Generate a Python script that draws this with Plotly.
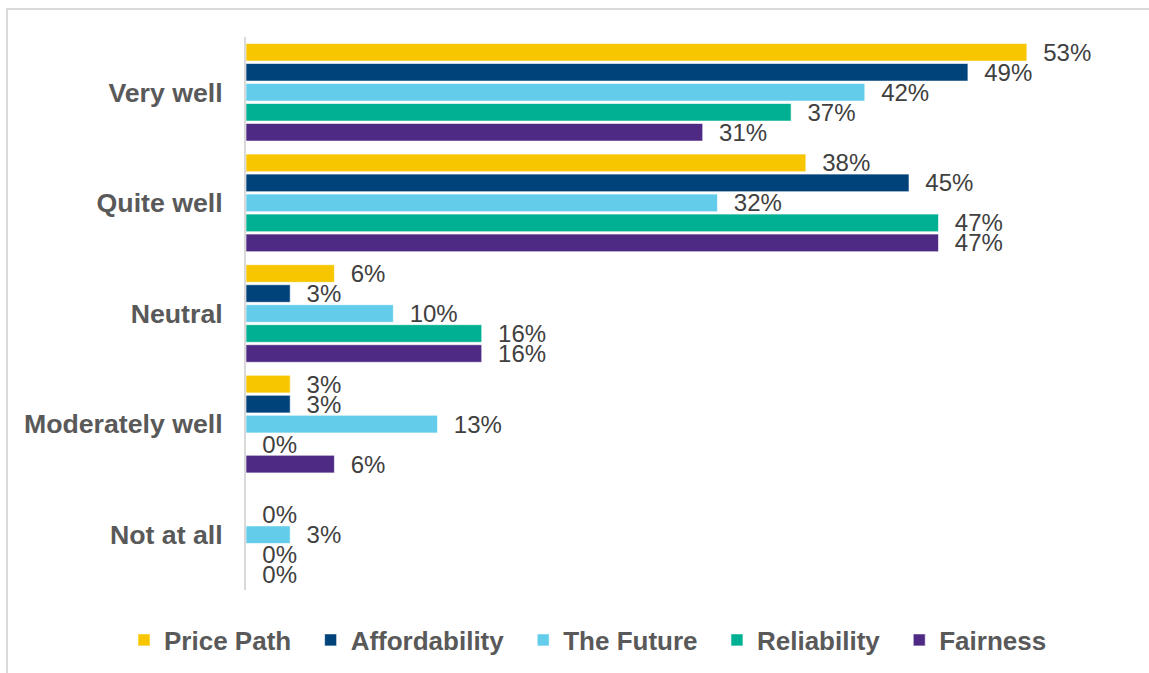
import plotly.graph_objects as go

# Survey responses, share of respondents (%) per rating and topic
categories = ["Very well", "Quite well", "Neutral", "Moderately well", "Not at all"]
price_path = [53, 38, 6, 3, None]
affordability = [49, 45, 3, 3, 0]
the_future = [42, 32, 10, 13, 3]
reliability = [37, 47, 16, 0, 0]
fairness = [31, 47, 16, 6, 0]

series = [
    ("Price Path", price_path, "#F7C600"),
    ("Affordability", affordability, "#00427A"),
    ("The Future", the_future, "#63CCEA"),
    ("Reliability", reliability, "#00B092"),
    ("Fairness", fairness, "#4E2A84"),
]

W, H = 1149, 673
ML, MR, MT, MB = 246, 19, 37, 83
PW, PH = W - ML - MR, H - MT - MB

FONT = "Arial, Liberation Sans, sans-serif"
NB = "\u00a0"

fig = go.Figure()
for i, (name, vals, color) in enumerate(series):
    fig.add_trace(go.Bar(
        y=categories,
        x=vals,
        name=name if i == len(series) - 1 else name + NB * 2,
        orientation="h",
        marker=dict(color=color, line=dict(color="white", width=0.6)),
        text=[None if v is None else f"{v}%" for v in vals],
        texttemplate=NB * 2 + "%{text}",
        textposition="outside",
        constraintext="none",
        textfont=dict(family=FONT, size=24, color="#404040"),
        cliponaxis=False,
        hoverinfo="x+y+name",
    ))

def px_x(p):
    return (p - ML) / PW

def px_y(p):
    return (MT + PH - p) / PH

fig.update_layout(
    width=W,
    height=H,
    margin=dict(l=ML, r=MR, t=MT, b=MB, autoexpand=False),
    paper_bgcolor="white",
    plot_bgcolor="white",
    barmode="group",
    bargap=0.096,
    bargroupgap=0.12,
    font=dict(family=FONT, color="#595959"),
    xaxis=dict(range=[0, 60], showgrid=False, zeroline=False, showticklabels=False,
               showline=False, fixedrange=True),
    yaxis=dict(autorange="reversed", showgrid=False, zeroline=False,
               showline=True, linecolor="#d9d9d9", linewidth=2,
               ticks="outside", ticklen=16, tickcolor="rgba(0,0,0,0)",
               tickfont=dict(family=FONT, size=26.7, color="#595959", weight="bold")),
    legend=dict(orientation="h", x=px_x(124), xanchor="left", y=px_y(640), yanchor="middle",
                font=dict(family=FONT, size=26, color="#595959", weight="bold"),
                traceorder="normal", itemclick=False, itemdoubleclick=False),
    shapes=[dict(type="rect", xref="paper", yref="paper",
                 x0=px_x(7), y0=px_y(700), x1=px_x(1170), y1=px_y(9),
                 line=dict(color="#d9d9d9", width=2), layer="below")],
)

fig.write_html("out.html")
